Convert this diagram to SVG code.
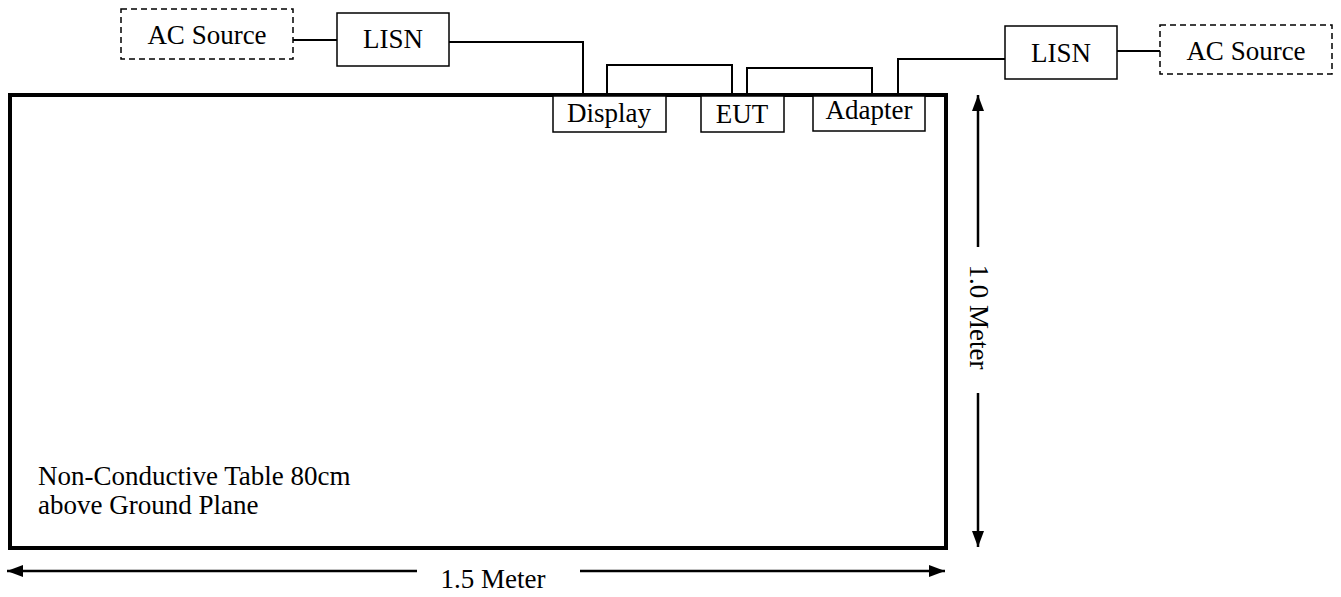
<svg xmlns="http://www.w3.org/2000/svg" width="1341" height="597" viewBox="0 0 1341 597">
<style>
  .box { fill: #fff; stroke: #000; stroke-width: 1.5; }
  .dash { fill: #fff; stroke: #000; stroke-width: 1.5; stroke-dasharray: 6 4; }
  .wire { fill: none; stroke: #000; stroke-width: 2; }
  .dim { fill: none; stroke: #000; stroke-width: 2.5; }
  text { font-family: "Liberation Serif", "Times New Roman", serif; font-size: 27px; fill: #000; }
  .c { text-anchor: middle; }
</style>
<defs>
  <marker id="ah" viewBox="0 0 16 12" refX="16" refY="6" markerWidth="16" markerHeight="12" markerUnits="userSpaceOnUse" orient="auto">
    <path d="M0,0 L16,6 L0,12 Z" fill="#000"/>
  </marker>
</defs>
<g id="table">
  <rect x="10" y="95" width="936" height="453" fill="#fff" stroke="#000" stroke-width="4"/>
  <text x="38" y="485">Non-Conductive Table 80cm</text>
  <text x="38" y="514">above Ground Plane</text>
</g>
<g id="connectors">
  <line class="wire" x1="293" y1="40" x2="337" y2="40"/>
  <polyline class="wire" points="449,42 583,42 583,95"/>
  <polyline class="wire" points="607,95 607,65 732,65 732,95"/>
  <polyline class="wire" points="747,95 747,68 872,68 872,95"/>
  <polyline class="wire" points="898,95 898,59 1005,59"/>
  <line class="wire" x1="1117" y1="51" x2="1160" y2="51"/>
</g>
<g id="ac-source-left">
  <rect class="dash" x="121" y="9" width="172" height="50"/>
  <text class="c" x="207" y="44" font-size="28">AC Source</text>
</g>
<g id="lisn-left">
  <rect class="box" x="337" y="13" width="112" height="53"/>
  <text class="c" x="393" y="48" font-size="28">LISN</text>
</g>
<g id="display">
  <rect class="box" x="553" y="96" width="113" height="36"/>
  <text class="c" x="609" y="122">Display</text>
</g>
<g id="eut">
  <rect class="box" x="701" y="96" width="83" height="36"/>
  <text class="c" x="742" y="123">EUT</text>
</g>
<g id="adapter">
  <rect class="box" x="813" y="96" width="112" height="35"/>
  <text class="c" x="869" y="119">Adapter</text>
</g>
<g id="lisn-right">
  <rect class="box" x="1005" y="26" width="112" height="53"/>
  <text class="c" x="1061" y="62" font-size="28">LISN</text>
</g>
<g id="ac-source-right">
  <rect class="dash" x="1160" y="25" width="172" height="49"/>
  <text class="c" x="1246" y="60" font-size="28">AC Source</text>
</g>
<g id="dimensions">
  <line class="dim" x1="978" y1="247" x2="978" y2="95" marker-end="url(#ah)"/>
  <line class="dim" x1="978" y1="393" x2="978" y2="547" marker-end="url(#ah)"/>
  <text class="c" transform="translate(970,317) rotate(90)">1.0 Meter</text>
  <line class="dim" x1="417" y1="571" x2="7" y2="571" marker-end="url(#ah)"/>
  <line class="dim" x1="580" y1="571" x2="945" y2="571" marker-end="url(#ah)"/>
  <text class="c" x="493" y="588">1.5 Meter</text>
</g>
</svg>
